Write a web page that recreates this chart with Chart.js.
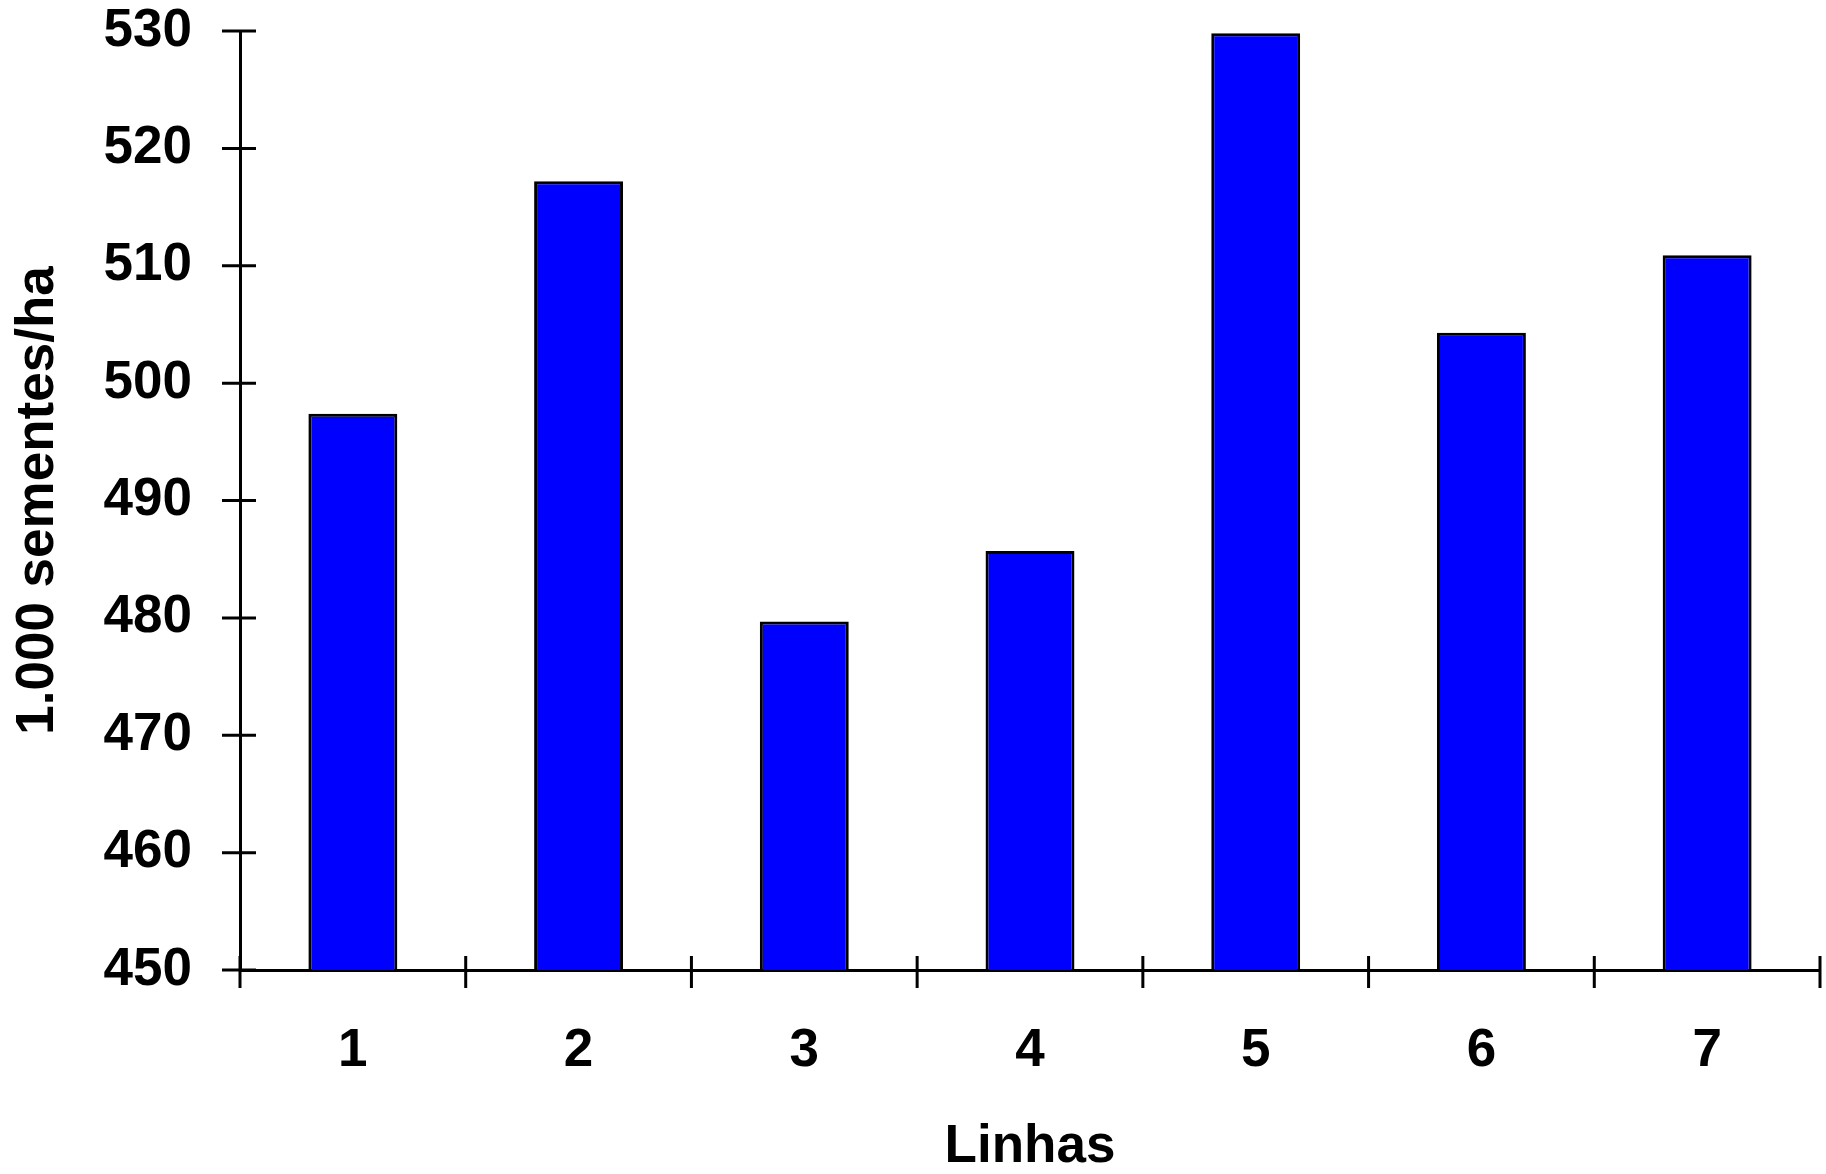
<!DOCTYPE html>
<html>
<head>
<meta charset="utf-8">
<script src="https://cdn.jsdelivr.net/npm/chart.js@4/dist/chart.umd.min.js"></script>
<style>
  html, body { margin: 0; padding: 0; background: #fff; }
  #wrap { width: 1826px; height: 1174px; }
</style>
</head>
<body>
<div id="wrap"><canvas id="chartLinhas" width="1826" height="1174"></canvas></div>
<script>
// dados
const linhas = ['1', '2', '3', '4', '5', '6', '7'];
const sementesHa = [497.4, 517.2, 479.7, 485.7, 529.8, 504.3, 510.9];
const yTicks = [450, 460, 470, 480, 490, 500, 510, 520, 530];

const FONT = 'Liberation Sans, Arial, Helvetica, sans-serif';
const AXIS_W = 3;

// marcas de escala que cruzam os eixos (como no original)
const crossTicks = {
  id: 'crossTicks',
  afterDatasetsDraw(chart) {
    const { ctx, scales: { x, y } } = chart;
    ctx.save();
    ctx.strokeStyle = '#000';
    ctx.lineWidth = AXIS_W;
    ctx.beginPath();
    y.ticks.forEach((t) => {
      const py = y.getPixelForValue(t.value);
      ctx.moveTo(x.left - 18, py);
      ctx.lineTo(x.left + 16, py);
    });
    for (let i = 0; i <= linhas.length; i++) {
      const px = x.getPixelForValue(i - 0.5);
      ctx.moveTo(px, y.bottom - 14);
      ctx.lineTo(px, y.bottom + 18);
    }
    ctx.stroke();
    ctx.restore();
  }
};

new Chart(document.getElementById('chartLinhas'), {
  type: 'bar',
  data: {
    labels: linhas,
    datasets: [{
      data: sementesHa,
      backgroundColor: '#0000ff',
      borderColor: '#000',
      borderWidth: 3,
      barPercentage: 0.394,
      categoryPercentage: 1
    }]
  },
  options: {
    responsive: false,
    animation: false,
    layout: { padding: { top: 31, right: 6, left: 0, bottom: 0 } },
    plugins: { legend: { display: false }, tooltip: { enabled: false } },
    scales: {
      x: {
        offset: true,
        // sem linhas de grade; o comprimento do "tick" só afasta os rótulos
        grid: { display: false, drawTicks: true, tickLength: 55 },
        border: { display: true, color: '#000', width: AXIS_W },
        ticks: {
          color: '#000',
          padding: 0,
          font: { family: FONT, size: 53, weight: 'bold', lineHeight: 1 }
        },
        title: {
          display: true,
          text: 'Linhas',
          color: '#000',
          padding: 0,
          font: { family: FONT, size: 53, weight: 'bold', lineHeight: 1 }
        },
        afterFit: (s) => { s.height = 204; }
      },
      y: {
        min: 450,
        max: 530,
        afterBuildTicks: (s) => { s.ticks = yTicks.map(v => ({ value: v })); },
        grid: { display: false, drawTicks: true, tickLength: 48 },
        border: { display: true, color: '#000', width: AXIS_W },
        ticks: {
          color: '#000',
          padding: 0,
          font: { family: FONT, size: 53, weight: 'bold', lineHeight: 1 }
        },
        title: {
          display: true,
          text: '1.000 sementes/ha',
          color: '#000',
          padding: { top: 11.5, bottom: 0 },
          font: { family: FONT, size: 53, weight: 'bold', lineHeight: 1 }
        },
        afterFit: (s) => { s.width = 240; }
      }
    }
  },
  plugins: [crossTicks]
});
</script>
</body>
</html>
